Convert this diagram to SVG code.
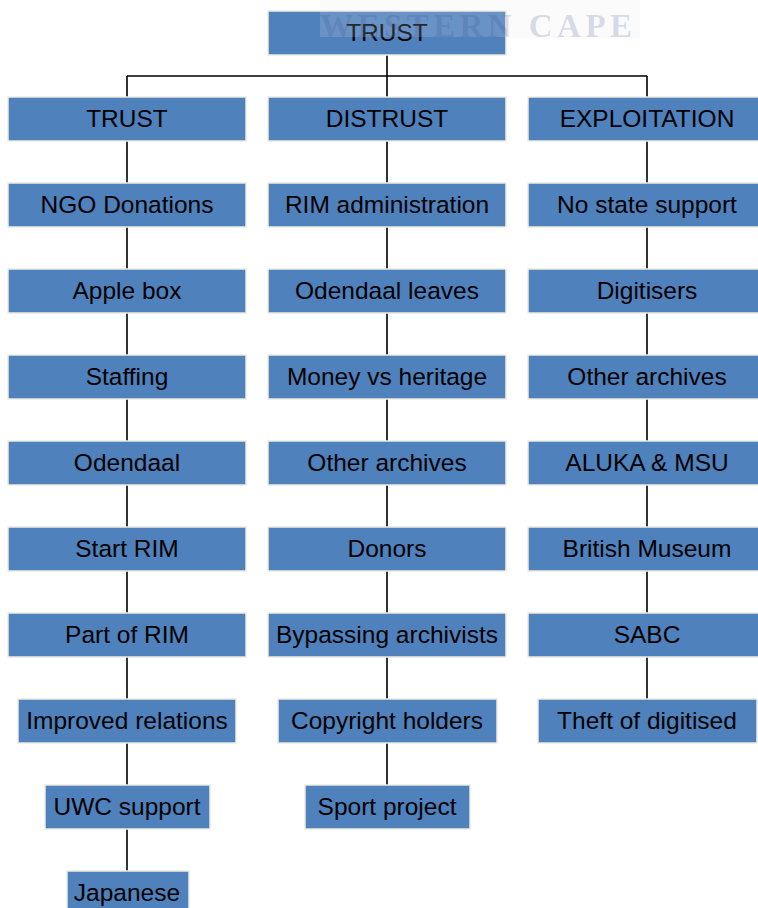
<svg xmlns="http://www.w3.org/2000/svg" width="758" height="908" viewBox="0 0 758 908">
<style>
.b{fill:#4F81BD;stroke:#EEEBE0;stroke-width:1.5}
.t{font-family:"Liberation Sans",Arial,sans-serif;font-size:24.5px;fill:#000;text-anchor:middle}
.c{stroke:#000;stroke-width:1.6;fill:none}
</style>
<rect width="758" height="908" fill="#fff"/>
<rect x="320" y="0" width="320" height="38" fill="#fbfbfc"/>
<g id="connectors">
<path class="c" d="M387 55V97M127 76H647M127 76V97M647 76V97"/>
<path class="c" d="M127 141V183M127 227V269M127 313V355M127 399V441M127 485V527M127 571V613M127 657V699M127 743V785M127 829V871"/>
<path class="c" d="M387 141V183M387 227V269M387 313V355M387 399V441M387 485V527M387 571V613M387 657V699M387 743V785"/>
<path class="c" d="M647 141V183M647 227V269M647 313V355M647 399V441M647 485V527M647 571V613M647 657V699"/>
</g>
<g id="root"><rect class="b" x="268" y="11" width="238" height="44"/><text class="t" x="387" y="41">TRUST</text></g>
<g id="c1-0"><rect class="b" x="8" y="97" width="238" height="44"/><text class="t" x="127" y="127">TRUST</text></g>
<g id="c1-1"><rect class="b" x="8" y="183" width="238" height="44"/><text class="t" x="127" y="213">NGO Donations</text></g>
<g id="c1-2"><rect class="b" x="8" y="269" width="238" height="44"/><text class="t" x="127" y="299">Apple box</text></g>
<g id="c1-3"><rect class="b" x="8" y="355" width="238" height="44"/><text class="t" x="127" y="385">Staffing</text></g>
<g id="c1-4"><rect class="b" x="8" y="441" width="238" height="44"/><text class="t" x="127" y="471">Odendaal</text></g>
<g id="c1-5"><rect class="b" x="8" y="527" width="238" height="44"/><text class="t" x="127" y="557">Start RIM</text></g>
<g id="c1-6"><rect class="b" x="8" y="613" width="238" height="44"/><text class="t" x="127" y="643">Part of RIM</text></g>
<g id="c1-7"><rect class="b" x="18" y="699" width="218" height="44"/><text class="t" x="127" y="729">Improved relations</text></g>
<g id="c1-8"><rect class="b" x="45" y="785" width="165" height="44"/><text class="t" x="127" y="815">UWC support</text></g>
<g id="c1-9"><rect class="b" x="67" y="871" width="122" height="44"/><text class="t" x="127" y="901">Japanese</text></g>
<g id="c2-0"><rect class="b" x="268" y="97" width="238" height="44"/><text class="t" x="387" y="127">DISTRUST</text></g>
<g id="c2-1"><rect class="b" x="268" y="183" width="238" height="44"/><text class="t" x="387" y="213">RIM administration</text></g>
<g id="c2-2"><rect class="b" x="268" y="269" width="238" height="44"/><text class="t" x="387" y="299">Odendaal leaves</text></g>
<g id="c2-3"><rect class="b" x="268" y="355" width="238" height="44"/><text class="t" x="387" y="385">Money vs heritage</text></g>
<g id="c2-4"><rect class="b" x="268" y="441" width="238" height="44"/><text class="t" x="387" y="471">Other archives</text></g>
<g id="c2-5"><rect class="b" x="268" y="527" width="238" height="44"/><text class="t" x="387" y="557">Donors</text></g>
<g id="c2-6"><rect class="b" x="268" y="613" width="238" height="44"/><text class="t" x="387" y="643">Bypassing archivists</text></g>
<g id="c2-7"><rect class="b" x="278" y="699" width="219" height="44"/><text class="t" x="387" y="729">Copyright holders</text></g>
<g id="c2-8"><rect class="b" x="305" y="785" width="165" height="44"/><text class="t" x="387" y="815">Sport project</text></g>
<g id="c3-0"><rect class="b" x="528" y="97" width="238" height="44"/><text class="t" x="647" y="127">EXPLOITATION</text></g>
<g id="c3-1"><rect class="b" x="528" y="183" width="238" height="44"/><text class="t" x="647" y="213">No state support</text></g>
<g id="c3-2"><rect class="b" x="528" y="269" width="238" height="44"/><text class="t" x="647" y="299">Digitisers</text></g>
<g id="c3-3"><rect class="b" x="528" y="355" width="238" height="44"/><text class="t" x="647" y="385">Other archives</text></g>
<g id="c3-4"><rect class="b" x="528" y="441" width="238" height="44"/><text class="t" x="647" y="471">ALUKA &amp; MSU</text></g>
<g id="c3-5"><rect class="b" x="528" y="527" width="238" height="44"/><text class="t" x="647" y="557">British Museum</text></g>
<g id="c3-6"><rect class="b" x="528" y="613" width="238" height="44"/><text class="t" x="647" y="643">SABC</text></g>
<g id="c3-7"><rect class="b" x="538" y="699" width="219" height="44"/><text class="t" x="647" y="729">Theft of digitised</text></g>
<g id="watermark">
<rect x="320" y="11" width="186" height="26" fill="#fff" fill-opacity="0.15"/>
<text x="320" y="37" font-family="'Liberation Serif','Times New Roman',serif" font-weight="bold" font-size="33" letter-spacing="6" fill="#3a4a8a" fill-opacity="0.19" textLength="318">WESTERN CAPE</text>
</g>
</svg>
